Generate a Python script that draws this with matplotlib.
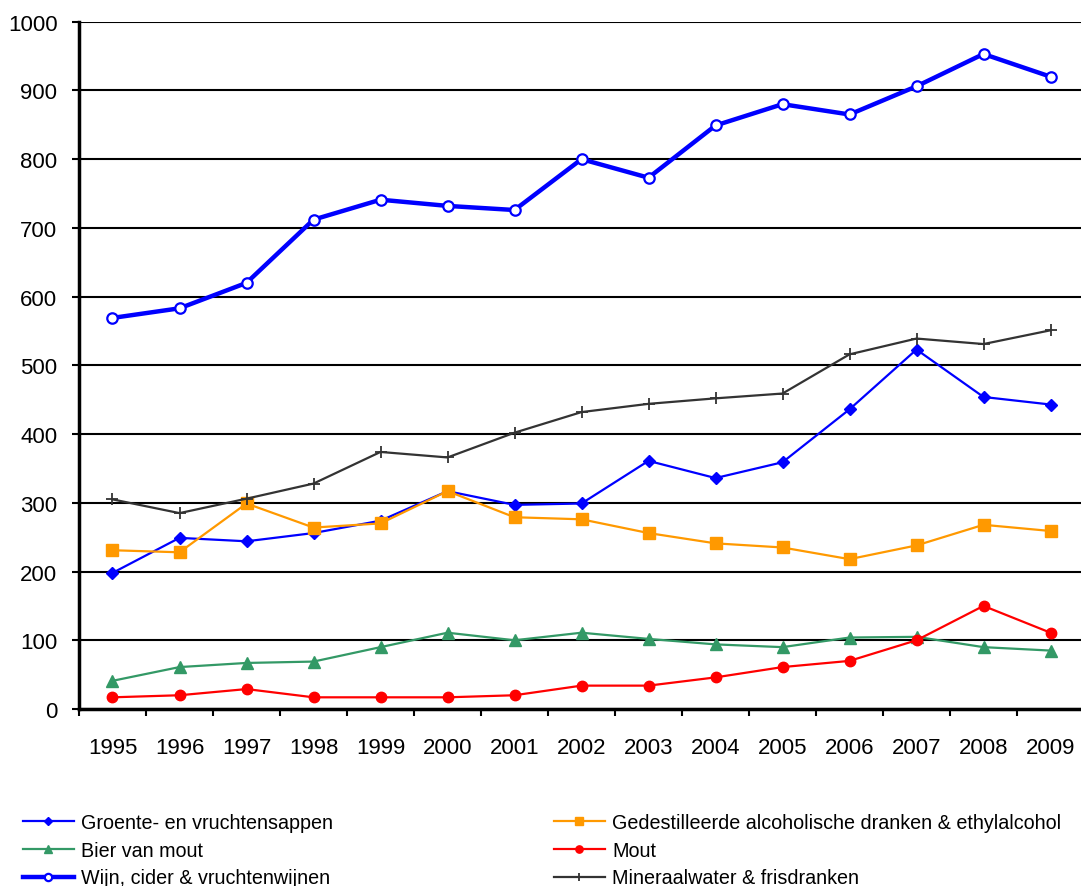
import matplotlib.pyplot as plt
from matplotlib.ticker import FixedLocator, NullFormatter

plt.rcParams['font.family'] = ['Liberation Sans', 'DejaVu Sans']

years = [str(y) for y in range(1995, 2010)]

groente = [198, 249, 244, 256, 274, 317, 297, 299, 361, 336, 359, 436, 523, 454, 443]
gedestilleerd = [231, 228, 299, 264, 270, 317, 279, 276, 256, 241, 235, 218, 238, 268, 259]
bier = [41, 61, 67, 69, 90, 111, 100, 111, 102, 94, 90, 104, 105, 90, 85]
mout = [17, 20, 29, 17, 17, 17, 20, 34, 34, 46, 61, 70, 100, 150, 111]
wijn = [569, 583, 620, 712, 741, 732, 726, 800, 773, 849, 880, 865, 906, 953, 920]
mineraal = [305, 285, 306, 328, 374, 366, 402, 432, 444, 452, 459, 516, 539, 531, 551]

labels = ["Groente- en vruchtensappen",
          "Gedestilleerde alcoholische dranken & ethylalcohol",
          "Bier van mout",
          "Mout",
          "Wijn, cider & vruchtenwijnen",
          "Mineraalwater & frisdranken"]

fig = plt.figure(figsize=(10.81, 8.87), dpi=100)
ax = fig.add_axes([79 / 1081, 177 / 887, 1005 / 1081, 687.3 / 887])

x = list(range(len(years)))
h1, = ax.plot(x, groente, color="#0000FF", lw=1.6, marker="D", ms=6.5, label=labels[0])
h2, = ax.plot(x, gedestilleerd, color="#FF9900", lw=1.6, marker="s", ms=8, label=labels[1])
h3, = ax.plot(x, bier, color="#339966", lw=1.6, marker="^", ms=8, label=labels[2])
h4, = ax.plot(x, mout, color="#FF0000", lw=1.6, marker="o", ms=7.5, label=labels[3])
h5, = ax.plot(x, wijn, color="#0000FF", lw=3.2, marker="o", ms=7.5, mfc="white",
              mec="#0000FF", mew=1.6, label=labels[4])
h6, = ax.plot(x, mineraal, color="#333333", lw=1.6, marker="+", ms=8, mew=1.3, label=labels[5])

ax.set_xlim(-0.5, len(years) - 0.5)
ax.set_ylim(0, 1000)
ax.set_yticks(range(0, 1001, 100))
ax.yaxis.grid(True, color="black", lw=1.5)
ax.set_axisbelow(True)

ax.xaxis.set_major_locator(FixedLocator([i - 0.5 for i in range(len(years) + 1)]))
ax.xaxis.set_major_formatter(NullFormatter())
ax.xaxis.set_minor_locator(FixedLocator(x))
ax.set_xticklabels(years, minor=True)
ax.tick_params(axis="x", which="major", length=5, width=1.5, direction="out")
ax.tick_params(axis="x", which="minor", length=0, pad=20, labelsize=16)
ax.tick_params(axis="y", length=5, width=1.5, pad=10.5, labelsize=16)

for s in ["top", "right"]:
    ax.spines[s].set_visible(False)
for s in ["left", "bottom"]:
    ax.spines[s].set_linewidth(2.5)

fig.legend([h1, h3, h5, h2, h4, h6],
           [labels[0], labels[2], labels[4], labels[1], labels[3], labels[5]],
           ncol=2, loc="upper left", bbox_to_anchor=(5 / 1081, 1 - 796 / 887),
           frameon=False, fontsize=14.2, handlelength=2.6, handletextpad=0.35,
           columnspacing=11.2, labelspacing=0.45, markerscale=0.7)

fig.savefig("out.png", dpi=100)
